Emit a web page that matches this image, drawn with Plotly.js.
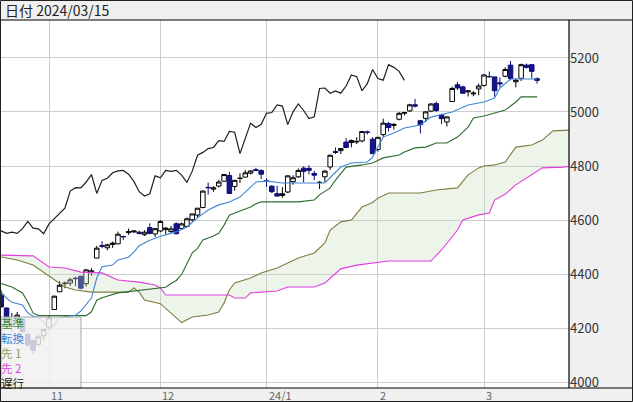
<!DOCTYPE html>
<html><head><meta charset="utf-8">
<script src="https://cdn.plot.ly/plotly-3.0.1.min.js"></script>
<style>html,body{margin:0;padding:0;background:#f0f0f0;}#chart{width:633px;height:402px;}</style>
</head><body><div id="chart"></div>
<script>
const headerText = '日付 2024/03/15';
const dates = [
'2023-10-19','2023-10-20','2023-10-23','2023-10-24','2023-10-25','2023-10-26','2023-10-27','2023-10-30','2023-10-31',
'2023-11-01','2023-11-02','2023-11-03','2023-11-06','2023-11-07','2023-11-08','2023-11-09','2023-11-10','2023-11-13','2023-11-14','2023-11-15','2023-11-16','2023-11-17','2023-11-20','2023-11-21','2023-11-22','2023-11-24','2023-11-27','2023-11-28','2023-11-29','2023-11-30',
'2023-12-01','2023-12-04','2023-12-05','2023-12-06','2023-12-07','2023-12-08','2023-12-11','2023-12-12','2023-12-13','2023-12-14','2023-12-15','2023-12-18','2023-12-19','2023-12-20','2023-12-21','2023-12-22','2023-12-26','2023-12-27','2023-12-28','2023-12-29',
'2024-01-02','2024-01-03','2024-01-04','2024-01-05','2024-01-08','2024-01-09','2024-01-10','2024-01-11','2024-01-12','2024-01-16','2024-01-17','2024-01-18','2024-01-19','2024-01-22','2024-01-23','2024-01-24','2024-01-25','2024-01-26','2024-01-29','2024-01-30','2024-01-31',
'2024-02-01','2024-02-02','2024-02-05','2024-02-06','2024-02-07','2024-02-08','2024-02-09','2024-02-12','2024-02-13','2024-02-14','2024-02-15','2024-02-16','2024-02-20','2024-02-21','2024-02-22','2024-02-23','2024-02-26','2024-02-27','2024-02-28','2024-02-29',
'2024-03-01','2024-03-04','2024-03-05','2024-03-06','2024-03-07','2024-03-08','2024-03-11','2024-03-12','2024-03-13','2024-03-14','2024-03-15'];
const open = [4321.4,4273.9,4210.4,4235.8,4232.4,4175.9,4152.9,4139.4,4171.3,
4201.3,4268.3,4334.2,4364.3,4366.2,4384.4,4391.4,4364.2,4406.7,4458.9,4505.3,4497.1,4509.6,4511.7,4538.8,4553.0,4555.8,4554.9,4545.6,4571.8,4548.4,
4559.4,4564.4,4557.3,4586.2,4568.8,4576.2,4600.8,4618.3,4646.2,4721.0,4714.2,4725.6,4743.7,4764.7,4724.3,4753.9,4758.9,4773.5,4786.4,4782.9,
4745.2,4725.1,4697.4,4690.6,4703.7,4741.9,4759.9,4792.1,4791.2,4772.4,4739.1,4760.1,4796.3,4853.4,4856.8,4888.6,4886.7,4888.9,4892.9,4925.9,4899.2,
4861.1,4916.1,4957.2,4950.2,4973.1,4995.2,5004.2,5026.8,4967.9,4976.4,5003.1,5031.1,4989.3,4963.0,5038.8,5100.9,5093.0,5074.6,5067.2,5085.4,
5098.5,5131.0,5130.0,5108.0,5132.4,5173.5,5112.0,5124.7,5173.5,5175.1,5123.3];
const high = [4339.5,4276.6,4255.8,4259.4,4232.4,4183.6,4156.7,4177.5,4195.6,
4245.6,4319.7,4374.0,4372.2,4386.3,4391.2,4393.4,4418.0,4421.8,4504.1,4521.2,4511.9,4520.1,4557.1,4542.1,4568.4,4560.3,4560.5,4562.2,4587.6,4569.9,
4599.4,4574.1,4578.6,4590.7,4590.9,4609.2,4623.0,4643.9,4709.7,4738.6,4725.5,4749.5,4768.7,4778.0,4748.7,4772.9,4784.7,4785.4,4793.3,4788.4,
4754.3,4729.3,4726.8,4721.5,4764.5,4765.5,4790.8,4798.5,4802.4,4782.3,4744.2,4785.4,4842.1,4868.4,4866.5,4903.7,4898.2,4906.7,4929.3,4931.1,4906.8,
4907.0,4975.3,4963.4,4957.8,4999.9,5000.4,5030.1,5048.4,4970.0,5002.5,5032.7,5038.7,4993.6,4983.2,5094.4,5111.1,5097.7,5080.7,5077.4,5105.0,
5140.3,5149.7,5130.0,5128.0,5165.6,5189.3,5124.7,5179.1,5179.1,5176.9,5128.0];
const low = [4276.0,4223.0,4189.2,4219.4,4181.4,4127.9,4103.8,4132.9,4153.1,
4197.7,4268.3,4334.2,4347.2,4355.4,4355.1,4343.9,4353.3,4393.8,4458.9,4495.3,4487.8,4496.7,4510.4,4525.5,4545.1,4552.8,4546.3,4540.5,4547.2,4537.2,
4554.7,4546.7,4551.7,4546.5,4565.2,4574.1,4593.4,4608.1,4643.2,4694.3,4704.7,4720.8,4743.1,4697.8,4708.4,4736.8,4758.5,4768.9,4781.0,4752.0,
4722.7,4699.7,4687.5,4682.1,4699.8,4730.4,4756.2,4739.6,4769.0,4747.1,4714.8,4740.6,4785.9,4844.1,4844.4,4865.9,4869.3,4881.5,4887.4,4916.5,4845.2,
4853.5,4908.0,4927.9,4934.9,4969.1,4987.1,5000.3,5016.8,4920.3,4963.1,4999.4,4999.5,4955.0,4946.0,5038.8,5081.5,5068.9,5057.3,5058.4,5061.9,
5094.2,5127.2,5056.8,5091.9,5128.2,5117.5,5091.1,5114.5,5161.2,5123.3,5105.0];
const close = [4278.0,4224.2,4217.0,4247.7,4186.8,4137.2,4117.4,4166.8,4193.8,
4237.9,4317.8,4358.3,4365.9,4378.4,4382.8,4347.4,4415.2,4411.6,4495.7,4502.9,4508.2,4514.0,4547.4,4538.2,4556.6,4559.3,4550.4,4554.9,4550.6,4567.8,
4594.6,4569.8,4567.2,4549.3,4585.6,4604.4,4622.4,4643.7,4707.1,4719.6,4719.2,4740.6,4768.4,4698.4,4746.8,4754.6,4774.8,4781.6,4783.4,4769.8,
4742.8,4704.8,4688.7,4697.2,4763.5,4756.5,4783.5,4780.2,4783.8,4766.0,4739.2,4780.9,4839.8,4850.4,4864.6,4868.6,4894.2,4891.0,4927.9,4925.0,4845.7,
4906.2,4958.6,4942.8,4954.2,4995.1,4997.9,5026.6,5021.8,4953.2,5000.6,5029.7,5005.6,4975.5,4981.8,5087.0,5088.8,5069.5,5078.2,5069.8,5096.3,
5137.1,5130.9,5078.7,5104.8,5157.4,5123.7,5117.9,5175.3,5165.3,5150.5,5117.1];

// Ichimoku lines (position = trading days from 2023-11-01)
const tenkanPos = [-9,-8,-7,-5,-4,-3,-2,-1,0,1,2,5,6,7,8,9,10,12,13,15,16,17,19,21,24,26,28,30,32,34,36,38,39,41,44,52,53,54,55,57,60,61,63,65,67,70,72,76,79,82,84,85,87,92];
const tenkanVal = [4333,4310,4295,4285,4256,4244,4238,4222,4195,4211,4239,4247,4263,4285,4311,4385,4427,4433,4452,4462,4481,4505,4525,4540,4556,4574,4608,4637,4656,4667,4685,4722,4741,4744,4737,4737,4756,4774,4796,4811,4815,4833,4907,4922,4941,4952,4981,5000,5026,5037,5052,5089,5122,5122];
const kijunPos = [-9,-7,-5,-4,-3,-2,7,8,9,10,13,19,21,22,23,24,25,26,27,28,29,31,32,33,34,36,37,38,39,40,47,50,51,53,54,56,59,61,63,64,66,67,69,71,73,75,77,79,80,82,84,86,88,89,92];
const kijunVal = [4365,4352,4330,4296,4256,4246,4246,4260,4303,4312,4330,4345,4351,4351,4365,4376,4398,4440,4478,4495,4526,4541,4551,4581,4618,4633,4640,4648,4660,4667,4667,4674,4693,4719,4748,4796,4804,4811,4830,4833,4841,4852,4867,4870,4885,4885,4907,4944,4978,4985,4996,5007,5037,5056,5056];
const senkou1Pos = [-9,-6,-3,-1,1,3,5,8,15,16,17,18,21,23,25,27,30,32,33,34,35,38,40,43,45,47,50,52,53,55,57,59,61,62,64,70,73,77,79,81,82,84,86,87,88,91,93,95,98];
const senkou1Val = [4463,4452,4433,4407,4378,4352,4341,4333,4333,4348,4333,4304,4290,4256,4220,4241,4248,4259,4293,4341,4367,4385,4404,4422,4441,4459,4478,4515,4563,4593,4600,4648,4665,4681,4700,4700,4711,4719,4767,4793,4800,4804,4815,4841,4870,4878,4896,4930,4933];
const senkou2Pos = [-9,-3,0,3,6,10,13,17,20,21,22,34,35,37,38,43,45,50,52,54,55,58,61,64,72,74,77,78,81,83,84,86,88,91,93,97,98];
const senkou2Val = [4470,4467,4426,4422,4407,4404,4378,4370,4359,4348,4322,4322,4311,4311,4330,4337,4352,4352,4367,4404,4419,4433,4441,4448,4448,4489,4563,4600,4619,4626,4674,4696,4730,4767,4793,4796,4798];
const chikouLag = 25;

const monthStarts = ['2023-11-01','2023-12-01','2024-01-02','2024-02-01','2024-03-01'];
const monthLabels = ['11','12','24/1','2','3'];
const yTicks = [4000,4200,4400,4600,4800,5000,5200];
const legendLabels = ['基準','転換','先 1','先 2','遅行'];

const colors = {tenkan:'#3f86d4', kijun:'#2e6c2e', s1:'#7e7e42', s2:'#e03ee0', chikou:'#1e1e1e'};
const legendColors = ['#3a8a3a','#3f86d4','#9a9a5c','#dd44dd','#222222'];

const base = dates.indexOf('2023-11-01');
const pos = dates.map((d,k)=>k-base);
const chikouPos = pos.map(p=>p-chikouLag);
const tickPos = monthStarts.map(d=>dates.indexOf(d)-base);

const W=633,H=402,L=1,R=64,T=20,B=14;
const pw=W-L-R, ph=H-T-B;
const px = x=>(x-L)/pw, py = y=>(H-B-y)/ph;
const FONT = '"Noto Sans CJK JP", "Noto Sans", sans-serif';

const line = (x,y,c,w)=>({type:'scatter',mode:'lines',x:x,y:y,line:{color:c,width:w||1.1},hoverinfo:'skip',showlegend:false});
const traces = [
  {type:'scatter',mode:'lines',x:senkou2Pos,y:senkou2Val,line:{width:0,color:'rgba(0,0,0,0)'},hoverinfo:'skip',showlegend:false},
  {type:'scatter',mode:'lines',x:senkou1Pos,y:senkou1Val,fill:'tonexty',fillcolor:'rgba(200,220,188,0.32)',line:{width:0,color:'rgba(0,0,0,0)'},hoverinfo:'skip',showlegend:false},
  line(senkou2Pos,senkou2Val,colors.s2),
  line(senkou1Pos,senkou1Val,colors.s1),
  line(kijunPos,kijunVal,colors.kijun),
  line(tenkanPos,tenkanVal,colors.tenkan),
  line(chikouPos,close,colors.chikou,1.2),
  {type:'candlestick',x:pos,open:open,high:high,low:low,close:close,whiskerwidth:0,
   increasing:{line:{color:'#000000',width:1},fillcolor:'#ffffff'},
   decreasing:{line:{color:'#0c0c74',width:1},fillcolor:'#16168c'},
   hoverinfo:'skip',showlegend:false}
];

const annotations = [];
annotations.push({xref:'paper',yref:'paper',x:px(3),y:py(10),xanchor:'left',yanchor:'middle',text:headerText,showarrow:false,font:{family:FONT,size:14,color:'#222'}});
tickPos.forEach((p,k)=>annotations.push({xref:'x',yref:'paper',x:p,y:py(395),xanchor:'left',yanchor:'middle',xshift:0,text:monthLabels[k],showarrow:false,font:{family:FONT,size:11,color:'#666'}}));
const legendText = legendLabels.map((t,k)=>'<span style="color:'+legendColors[k]+'">'+t+'</span>').join('<br>');
annotations.push({xref:'paper',yref:'paper',x:px(0),y:py(352.5),xanchor:'left',yanchor:'middle',align:'left',text:legendText,showarrow:false,borderpad:0,font:{family:FONT,size:11.5,color:'#222'}});

const shapes = [
  {type:'rect',xref:'paper',yref:'paper',x0:0,x1:px(81),y0:0,y1:py(317),fillcolor:'rgba(240,240,240,0.82)',line:{color:'#a8a8a8',width:1},layer:'above'},
  {type:'line',xref:'paper',yref:'paper',x0:px(0),x1:px(633),y0:1,y1:1,line:{color:'#000',width:1.2},layer:'above'},
  {type:'line',xref:'paper',yref:'paper',x0:px(0),x1:px(633),y0:0,y1:0,line:{color:'#000',width:1.2},layer:'above'},
  {type:'line',xref:'paper',yref:'paper',x0:1,x1:1,y0:0,y1:1,line:{color:'#000',width:1.2},layer:'above'},
  {type:'rect',xref:'paper',yref:'paper',x0:px(0.5),x1:px(632.5),y0:py(401.5),y1:py(0.5),line:{color:'#222',width:1},layer:'above'}
];

const layout = {
  width:W,height:H,margin:{l:L,r:R,t:T,b:B,pad:0},
  paper_bgcolor:'#f0f0f0',plot_bgcolor:'#ffffff',
  showlegend:false,hovermode:false,dragmode:false,
  boxgap:0.05,boxgroupgap:0.1,
  xaxis:{type:'linear',range:[(1-49)/5.305,(569-49)/5.305],tickvals:tickPos,showticklabels:false,
    showgrid:true,gridcolor:'#cccccc',gridwidth:1,zeroline:false,showline:false,ticks:'',rangeslider:{visible:false},fixedrange:true},
  yaxis:{range:[3977.8,5340.7],side:'right',tickvals:yTicks,ticktext:yTicks.map(String),
    showgrid:true,gridcolor:'#cccccc',gridwidth:1,zeroline:false,showline:false,ticks:'',
    tickfont:{family:FONT,size:13,color:'#333'},fixedrange:true},
  annotations:annotations,shapes:shapes
};
Plotly.newPlot('chart',traces,layout,{staticPlot:true,displayModeBar:false});
</script></body></html>
